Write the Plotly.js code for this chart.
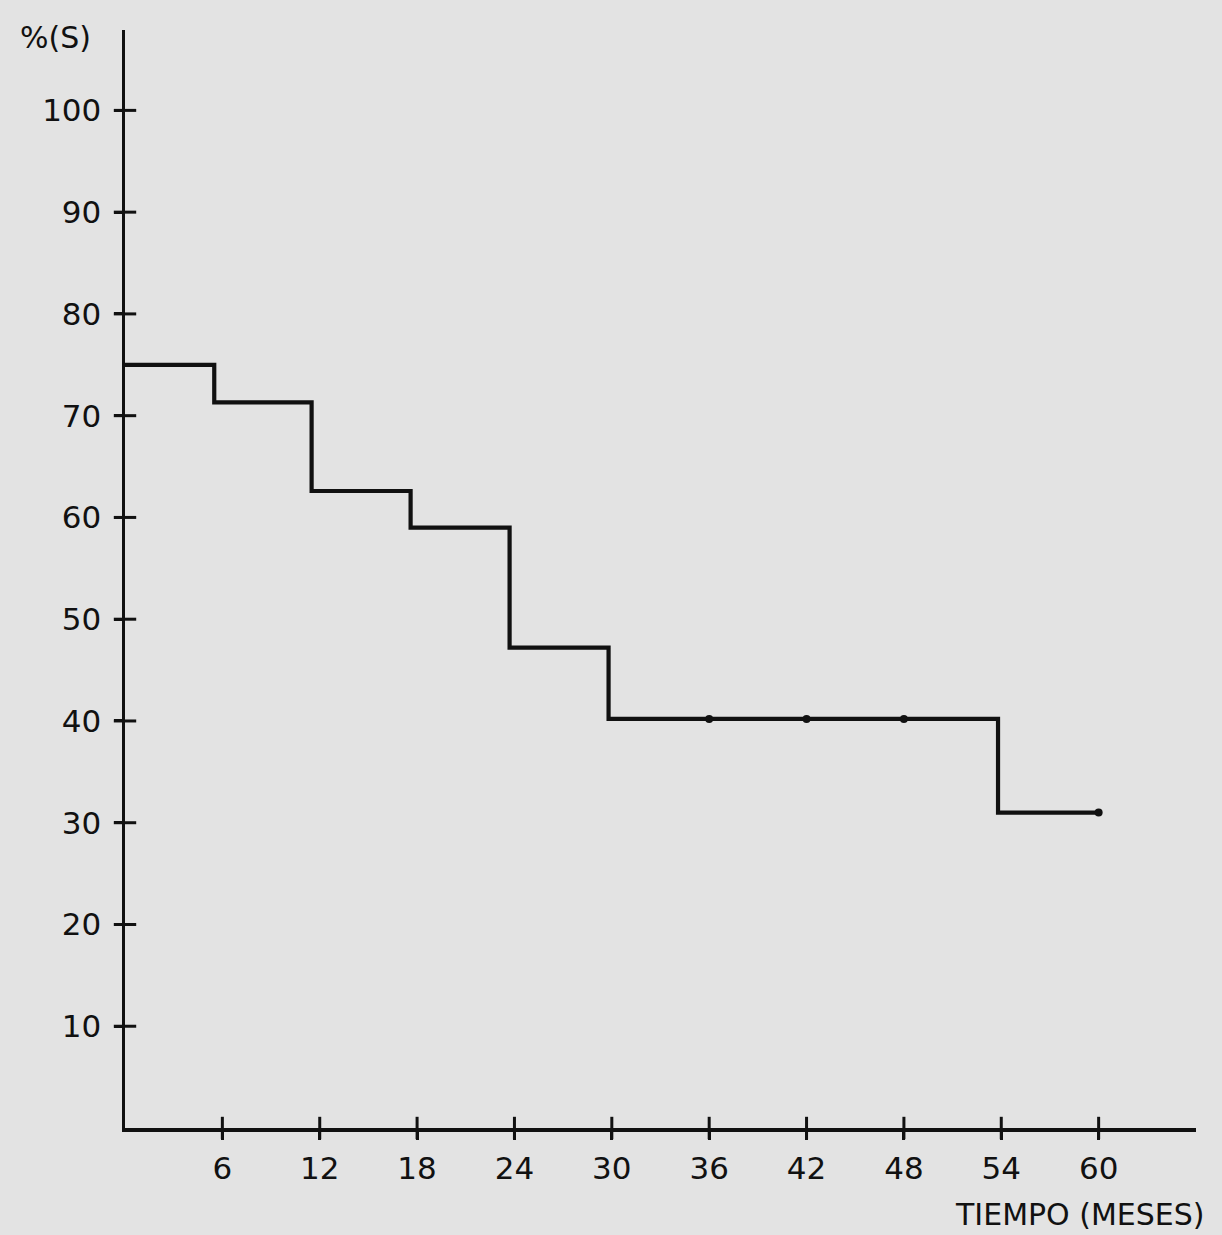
<!DOCTYPE html>
<html>
<head>
<meta charset="utf-8">
<script src="https://cdn.plot.ly/plotly-3.0.1.min.js"></script>
<style>
  html, body { margin: 0; padding: 0; background: #e3e3e3; }
  #chart { width: 1222px; height: 1235px; }
</style>
</head>
<body>
<div id="chart"></div>
<script>
// Survival curve (Kaplan-Meier style), time in months
const stepTimes    = [0, 5.5, 11.5, 17.6, 23.7, 29.8, 53.8, 60];
const survivalPct  = [75, 71.3, 62.6, 59, 47.2, 40.2, 31, 31];

// Censored observations (small marks on the curve)
const censorTimes  = [36, 42, 48, 60];
const censorPct    = [40.2, 40.2, 40.2, 31];

// Axis ticks
const xTickVals = [6, 12, 18, 24, 30, 36, 42, 48, 54, 60];
const xTickText = ['6', '12', '18', '24', '30', '36', '42', '48', '54', '60'];
const yTickVals = [10, 20, 30, 40, 50, 60, 70, 80, 90, 100];
const yTickText = ['10', '20', '30', '40', '50', '60', '70', '80', '90', '100'];

const ink = '#111111';
const bg = '#e3e3e3';
const fontFam = 'DejaVu Sans, Arial, sans-serif';

const xRange = [0, 66];
const yRange = [0, 107.9];

const traces = [
  {
    x: stepTimes, y: survivalPct,
    type: 'scatter', mode: 'lines',
    line: { shape: 'hv', color: ink, width: 4.2 },
    hoverinfo: 'x+y', showlegend: false
  },
  {
    x: censorTimes, y: censorPct,
    type: 'scatter', mode: 'markers',
    marker: { symbol: 'circle', size: 8, color: ink },
    showlegend: false
  },
  {
    // crossing tick marks on the x axis (centred on the axis line)
    x: xTickVals, y: xTickVals.map(() => yRange[0]),
    type: 'scatter', mode: 'markers', cliponaxis: false,
    marker: { symbol: 'line-ns-open', size: 16, color: ink, line: { color: ink, width: 3 } },
    hoverinfo: 'skip', showlegend: false
  },
  {
    // crossing tick marks on the y axis
    x: yTickVals.map(() => xRange[0]), y: yTickVals,
    type: 'scatter', mode: 'markers', cliponaxis: false,
    marker: { symbol: 'line-ew-open', size: 16, color: ink, line: { color: ink, width: 3 } },
    hoverinfo: 'skip', showlegend: false
  }
];

const layout = {
  width: 1222, height: 1235,
  paper_bgcolor: bg, plot_bgcolor: bg,
  margin: { l: 125, r: 26, t: 30, b: 107 },
  font: { family: fontFam, color: ink, size: 31 },
  xaxis: {
    range: xRange, showgrid: false, zeroline: false,
    showline: true, linecolor: ink, linewidth: 3.5,
    tickmode: 'array', tickvals: xTickVals, ticktext: xTickText,
    ticks: 'outside', ticklen: 8, tickwidth: 3, tickcolor: ink,
    tickfont: { family: fontFam, size: 31, color: ink },
    ticklabelstandoff: 2
  },
  yaxis: {
    range: yRange, showgrid: false, zeroline: false,
    showline: true, linecolor: ink, linewidth: 3.5,
    tickmode: 'array', tickvals: yTickVals, ticktext: yTickText,
    ticks: 'outside', ticklen: 8, tickwidth: 3, tickcolor: ink,
    tickfont: { family: fontFam, size: 31, color: ink },
    ticklabelstandoff: 6
  },
  annotations: [
    {
      text: '%(S)', xref: 'paper', yref: 'paper',
      x: -0.065, y: 0.9936, xanchor: 'center', yanchor: 'middle',
      showarrow: false, font: { family: fontFam, size: 30, color: ink }
    },
    {
      text: 'TIEMPO (MESES)', xref: 'paper', yref: 'paper',
      x: 0.8917, y: -0.0792, xanchor: 'center', yanchor: 'middle',
      showarrow: false, font: { family: fontFam, size: 30, color: ink }
    }
  ]
};

Plotly.newPlot('chart', traces, layout, { displayModeBar: false, staticPlot: true });
</script>
</body>
</html>
